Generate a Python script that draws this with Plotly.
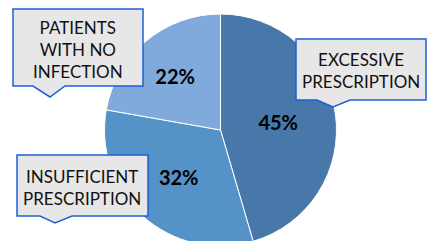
import plotly.graph_objects as go

categories = ["EXCESSIVE PRESCRIPTION", "INSUFFICIENT PRESCRIPTION", "PATIENTS WITH NO INFECTION"]
values = [45, 32, 22]
slice_colors = ["#4878A9", "#5592C8", "#80AADB"]

W, H = 427, 246

def px(x):
    return x / W

def py(y):
    return 1 - y / H

fig = go.Figure()
cx, cy, r = 220.5, 130, 116
fig.add_trace(go.Pie(
    labels=categories, values=values, sort=False, direction="clockwise", rotation=0,
    marker=dict(colors=slice_colors, line=dict(color="white", width=1)),
    texttemplate="%{percent:.0%}", textposition="inside", insidetextorientation="horizontal",
    textfont=dict(family="Lato", size=20, color="black", weight="bold"),
    domain=dict(x=[px(cx - r), px(cx + r)], y=[py(cy + r), py(cy - r)]),
    showlegend=False, hoverinfo="label+percent",
))

# callout boxes: (left, top, right, bottom, pointer_left, pointer_right, tip_x, tip_y)
boxes = [
    (13, 9, 143, 86, 33, 65, 50, 97),
    (296, 39, 426, 100, 317, 350, 333, 107),
    (17, 155, 148, 216, 40, 72, 55, 223),
]
shapes = []
for (l, t, rr, b, pl, pr, tx, ty) in boxes:
    path = (f"M {px(l)},{py(t)} L {px(rr)},{py(t)} L {px(rr)},{py(b)} L {px(pr)},{py(b)} "
            f"L {px(tx)},{py(ty)} L {px(pl)},{py(b)} L {px(l)},{py(b)} Z")
    shapes.append(dict(type="path", xref="paper", yref="paper", path=path,
                       fillcolor="#E7E7E7", line=dict(color="#1F5FD8", width=1.5)))

label_text = ["EXCESSIVE<br>PRESCRIPTION", "INSUFFICIENT<br>PRESCRIPTION", "PATIENTS<br>WITH NO<br>INFECTION"]
label_pos = [(361, 70), (82, 187), (78, 49)]
annotations = []
for txt, (x, y) in zip(label_text, label_pos):
    annotations.append(dict(text=txt, x=px(x), y=py(y), xref="paper", yref="paper",
                            showarrow=False, xanchor="center", yanchor="middle",
                            font=dict(family="Lato", size=17, color="#111111")))

fig.update_layout(width=W, height=H, margin=dict(l=0, r=0, t=0, b=0),
                  paper_bgcolor="white", plot_bgcolor="white",
                  shapes=shapes, annotations=annotations)

fig.write_html("out.html", config={"displayModeBar": False},
               post_script="document.body.style.overflow='hidden';document.body.style.margin='0';")
